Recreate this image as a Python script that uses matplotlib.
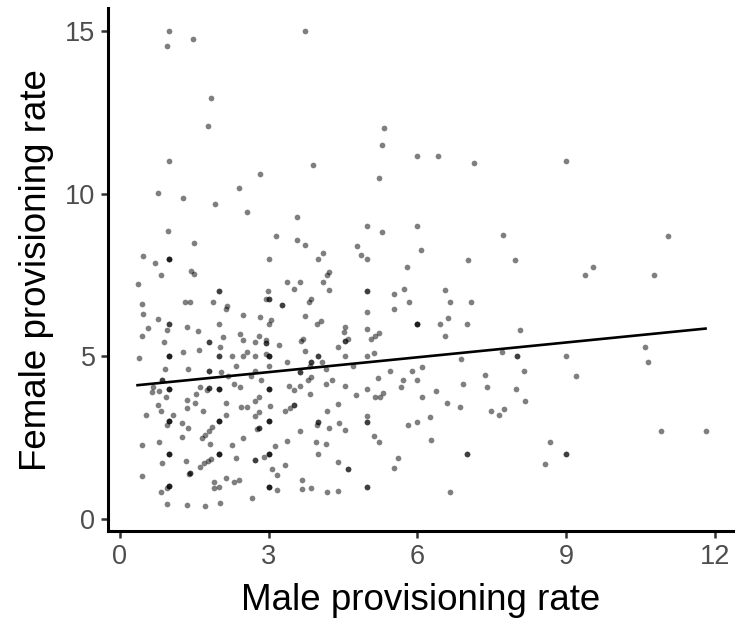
import numpy as np
import matplotlib
matplotlib.use("Agg")
import matplotlib.pyplot as plt

plt.rcParams['font.family'] = ['Liberation Sans', 'DejaVu Sans']

# single observations (male rate, female rate)
male = [
    1.0, 1.47, 0.96, 3.74, 1.84, 1.79, 0.99, 3.9, 2.82, 0.77, 2.41, 1.28, 1.93, 2.57, 3.57,
    0.98, 1.5, 3.16, 3.57, 3.74, 0.47, 0.71, 3.0, 3.99,
    5.33, 5.29, 5.99, 6.42, 7.14, 5.23, 4.99, 5.29, 5.99, 7.73, 4.79, 4.09, 4.86, 4.99, 6.08,
    5.8, 7.03, 7.96,
    9.0, 11.05, 9.54, 9.37, 10.78, 10.58, 9.0, 10.64, 9.19, 8.18, 10.91, 11.81, 8.68, 8.57,
    4.22, 4.17, 4.09, 4.21, 5.53, 5.73, 6.56, 6.66, 7.08, 5.83, 5.53, 4.99, 6.61, 6.46, 7.0,
    6.56, 8.06, 4.06, 4.54, 4.52, 4.61, 4.99, 5.07, 5.15, 5.23, 4.4, 4.54, 4.99, 5.12, 4.07,
    4.15, 4.71, 5.45, 5.9, 6.09, 6.88, 7.71, 8.16, 4.28, 4.15, 4.54, 5.21, 5.71, 5.99, 5.67,
    4.99, 4.76, 5.15, 5.24, 5.31, 6.09, 6.38, 6.92, 7.37, 7.4, 7.99, 6.6, 6.87, 7.49, 7.65,
    7.74, 4.17, 4.4, 4.99, 3.97, 4.21, 4.42, 4.54, 5.81, 5.99, 6.26, 3.96, 4.15, 5.13, 5.23,
    6.28, 4.0, 4.4, 5.62, 5.52, 4.17, 4.41, 6.66,
    0.36, 0.83, 1.44, 1.5, 0.44, 1.32, 1.42, 1.88, 0.48, 0.77, 0.58, 0.96, 1.36, 1.57, 0.46,
    0.9, 0.38, 1.28, 1.59, 0.92, 1.38, 0.65, 0.79, 0.68, 0.93, 1.62, 1.76, 1.53, 1.36,
    0.77, 0.83, 0.53, 1.07, 1.36, 1.52, 1.67, 0.96, 1.26, 1.38, 1.26, 1.66, 1.71, 1.81, 1.87,
    1.83, 0.45, 0.79, 0.86, 1.34, 1.62, 1.7, 1.78, 1.85, 1.39, 0.44, 0.95, 0.84, 0.95, 1.36,
    1.71,
    2.14, 2.17, 2.0, 2.49, 2.83, 2.99, 2.95, 3.38, 3.52, 3.64, 3.81, 3.86, 3.74, 3.98, 3.0,
    3.05, 2.09, 2.43, 2.49, 2.72, 2.81, 2.95, 3.21, 3.65, 3.69, 2.02, 2.27, 2.49, 2.57, 2.72,
    2.94, 3.38, 3.74, 3.84, 2.34, 3.0, 2.05, 2.18, 2.72, 2.64, 2.85, 3.8, 3.85, 2.3, 2.43,
    3.41, 3.52, 3.64, 3.84, 2.8,
    2.14, 2.14, 2.45, 2.57, 2.72, 3.04, 2.72, 2.81, 3.33, 3.43, 2.77, 2.49, 3.63, 3.38, 2.27,
    3.13, 2.34, 2.9, 3.33, 3.08, 3.18, 2.14, 2.3, 2.4, 1.9, 1.9, 3.18, 3.67, 3.68, 3.86,
    2.66, 2.03, 2.0,
]
female = [
    15.0, 14.75, 14.55, 15.0, 12.94, 12.1, 11.01, 10.88, 10.6, 10.01, 10.17, 9.87, 9.69, 9.44, 9.29,
    8.86, 8.5, 8.69, 8.58, 8.44, 8.09, 7.86, 8.0, 8.0,
    12.02, 11.49, 11.16, 11.16, 10.96, 10.49, 9.0, 8.83, 9.0, 8.72, 8.4, 8.19, 8.12, 8.01, 8.27,
    7.75, 7.97, 7.97,
    11.01, 8.69, 7.74, 7.5, 7.5, 5.29, 5.0, 4.84, 4.4, 3.63, 2.72, 2.72, 2.36, 1.7,
    7.61, 7.5, 7.28, 7.04, 6.93, 7.06, 7.03, 6.67, 6.67, 6.67, 6.47, 6.36, 6.18, 5.99, 5.99,
    5.63, 5.8, 6.1, 5.91, 5.75, 5.54, 5.83, 5.53, 5.63, 5.71, 5.3, 5.0, 5.0, 5.11, 4.82,
    4.61, 4.72, 4.54, 4.54, 4.68, 4.91, 5.13, 4.54, 4.27, 4.15, 4.09, 4.34, 4.28, 4.28, 4.05,
    4.0, 3.81, 3.75, 3.75, 3.87, 3.75, 3.93, 4.15, 4.43, 4.07, 4.0, 3.56, 3.43, 3.33, 3.19,
    3.38, 3.33, 3.53, 3.18, 2.88, 2.81, 2.94, 2.73, 2.9, 2.99, 3.13, 2.37, 2.3, 2.56, 2.38,
    2.42, 1.99, 1.75, 1.87, 1.57, 0.82, 0.87, 0.82,
    7.23, 7.5, 7.62, 7.52, 6.62, 6.67, 6.67, 6.67, 6.29, 6.16, 5.88, 5.81, 5.91, 5.79, 5.63,
    5.45, 4.94, 5.13, 5.2, 4.61, 4.61, 3.91, 3.94, 4.07, 3.74, 4.05, 3.97, 3.84, 3.66,
    3.5, 3.33, 3.21, 3.21, 3.41, 3.56, 3.33, 2.89, 2.95, 2.79, 2.53, 2.5, 2.57, 2.71, 2.82,
    2.31, 2.27, 2.36, 1.73, 1.78, 1.61, 1.71, 1.77, 1.85, 1.38, 1.33, 0.94, 0.83, 0.46, 0.44,
    0.41,
    6.45, 6.54, 6.0, 6.26, 6.22, 7.01, 6.77, 7.28, 7.06, 7.29, 6.67, 6.77, 6.25, 6.0, 6.0,
    6.11, 5.59, 5.68, 5.5, 5.45, 5.63, 5.49, 5.36, 5.46, 5.54, 5.28, 5.0, 5.0, 5.14, 5.0,
    5.06, 4.84, 5.16, 4.71, 4.69, 4.71, 4.52, 4.39, 4.55, 4.41, 4.27, 4.27, 4.37, 4.15, 4.05,
    4.1, 3.97, 4.1, 3.85, 3.74,
    3.56, 3.21, 3.44, 3.43, 3.62, 3.47, 3.18, 3.28, 3.32, 3.42, 2.77, 2.5, 2.72, 2.41, 2.27,
    2.23, 1.87, 1.92, 1.66, 1.53, 1.35, 1.27, 1.14, 1.19, 1.13, 0.94, 0.89, 1.21, 0.91, 0.95,
    0.65, 0.49, 0.98,
]

# repeated observations at the same value (drawn darker by overplotting)
stack_male = [9.0, 4.99, 6.0, 4.54, 4.0, 8.0, 4.99, 4.0, 7.0, 4.61, 4.99,
              1.0, 1.81, 1.0, 1.81, 0.85, 1.0, 1.8, 1.0, 1.0, 1.42, 1.0, 1.0,
              2.0, 3.0, 3.27, 2.95, 2.0, 3.0, 3.86, 3.64, 2.0, 3.0,
              3.51, 2.0, 3.0, 2.81, 2.0, 3.0, 2.72, 3.0]
stack_female = [2.0, 7.01, 6.0, 5.46, 5.0, 5.0, 2.99, 2.99, 1.99, 1.53, 0.99,
                6.0, 5.45, 5.0, 4.54, 4.28, 4.0, 4.04, 3.0, 2.0, 1.42, 1.0, 8.0,
                7.0, 6.76, 6.57, 5.42, 5.0, 5.0, 4.84, 4.53, 4.0, 4.0,
                3.51, 3.0, 3.0, 2.81, 2.0, 2.0, 1.8, 0.98]
stack_n = [2, 2, 3, 2, 2, 2, 2, 2, 2, 2, 2,
           2, 2, 3, 2, 2, 3, 2, 3, 3, 2, 3, 3,
           2, 2, 2, 2, 2, 3, 2, 2, 3, 3,
           2, 3, 3, 2, 3, 3, 2, 3]

# fitted line
fit_intercept = 4.06
fit_slope = 0.152

x = np.concatenate([male, np.repeat(stack_male, stack_n)])
y = np.concatenate([female, np.repeat(stack_female, stack_n)])

fig = plt.figure(figsize=(7.36, 6.24), dpi=100)
ax = fig.add_axes([0.1467, 0.149, 0.849, 0.838])

ax.scatter(x, y, s=17, color='black', alpha=0.5, linewidths=0, zorder=2)

xl = np.array([x.min(), x.max()])
ax.plot(xl, fit_intercept + fit_slope * xl, color='black', lw=1.9, zorder=3)

ax.set_xlim(-0.236, 12.36)
ax.set_ylim(-0.37, 15.71)
ax.set_xticks([0, 3, 6, 9, 12])
ax.set_yticks([0, 5, 10, 15])

for side in ['top', 'right']:
    ax.spines[side].set_visible(False)
for side in ['left', 'bottom']:
    ax.spines[side].set_linewidth(2.2)
    ax.spines[side].set_color('black')

ax.tick_params(axis='both', length=5, width=1.8, color='#333333',
               labelcolor='#4D4D4D', labelsize=19.5, pad=4)

ax.set_xlabel('Male provisioning rate', fontsize=26.5, color='black', labelpad=10)
ax.set_ylabel('Female provisioning rate', fontsize=26.5, color='black', labelpad=8)

fig.savefig('out.png', dpi=100)
